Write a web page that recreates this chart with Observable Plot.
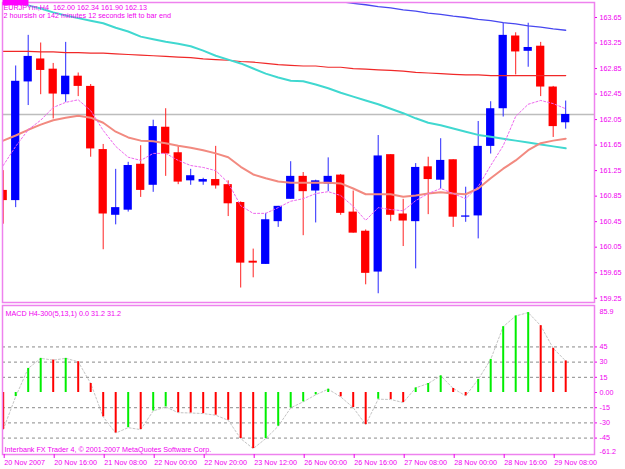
<!DOCTYPE html>
<html><head><meta charset="utf-8">
<script src="https://cdn.jsdelivr.net/npm/d3@7"></script>
<script src="https://cdn.jsdelivr.net/npm/@observablehq/plot@0.6"></script>
<style>
body{margin:0;background:#fff;}
#wrap{position:relative;width:625px;height:469px;overflow:hidden;background:#fff;}
#wrap svg{position:absolute;left:0;}
</style></head><body><div id="wrap"></div>
<script>
// ---- data (H4 candles, index 0 = 20 Nov 2007 00:00) ----
const opens  = [160.94,160.78,162.64,163.00,162.84,162.44,162.73,162.57,161.58,160.55,160.63,161.35,161.02,161.93,161.53,161.09,161.07,161.11,161.03,160.75,159.83,159.78,160.45,160.80,161.16,160.93,161.04,161.18,160.60,160.30,159.66,161.50,160.57,160.45,161.31,161.10,161.42,160.52,160.54,161.63,162.22,163.36,163.12,163.20,162.56,162.00];
const highs  = [161.25,162.89,163.37,163.25,162.93,163.26,162.78,162.60,161.66,161.27,161.38,161.64,162.04,162.22,161.63,161.27,161.13,161.63,161.09,160.76,160.02,160.58,160.69,161.39,161.22,161.10,161.45,161.19,160.93,160.32,161.80,161.50,160.80,161.36,161.46,161.75,161.42,160.99,162.02,162.33,163.56,163.41,163.56,163.26,162.57,162.34];
const lows   = [160.41,160.67,162.27,162.44,162.06,162.32,162.41,161.46,160.01,160.40,160.60,160.83,160.91,161.16,161.03,161.02,161.02,160.96,160.53,159.41,159.57,159.78,160.36,160.80,160.23,160.43,160.92,160.55,160.27,159.46,159.32,160.45,160.06,159.71,160.56,160.96,160.36,160.44,160.18,161.51,162.09,162.75,162.87,162.41,161.77,161.90];
const closes = [160.78,162.65,163.04,162.82,162.45,162.73,162.57,161.59,160.57,160.67,161.33,160.94,161.94,161.51,161.07,161.17,161.11,161.01,160.73,159.80,159.80,160.48,160.69,161.16,160.92,161.09,161.16,160.58,160.27,159.64,161.48,160.55,160.46,161.30,161.11,161.41,160.52,160.54,161.63,162.22,163.37,163.11,163.18,162.56,161.94,162.13];

const maCyan   = [163.95,163.90,163.84,163.79,163.73,163.68,163.64,163.60,163.56,163.49,163.43,163.35,163.31,163.27,163.24,163.20,163.13,163.05,162.99,162.93,162.85,162.77,162.71,162.66,162.65,162.60,162.54,162.47,162.41,162.35,162.29,162.22,162.15,162.07,162.00,161.96,161.91,161.86,161.81,161.78,161.75,161.72,161.69,161.66,161.63,161.60];
const maRed    = [163.12,163.12,163.12,163.11,163.11,163.10,163.10,163.09,163.09,163.08,163.07,163.06,163.05,163.04,163.03,163.02,163.00,162.99,162.98,162.96,162.95,162.93,162.91,162.90,162.89,162.89,162.87,162.87,162.85,162.84,162.83,162.82,162.81,162.79,162.78,162.77,162.76,162.75,162.75,162.74,162.74,162.74,162.74,162.74,162.74,162.74];
const maSalmon = [161.72,161.80,161.89,161.97,162.04,162.08,162.11,162.08,162.00,161.86,161.77,161.72,161.71,161.68,161.64,161.61,161.57,161.52,161.46,161.31,161.19,161.13,161.08,161.06,161.06,161.06,161.06,161.05,160.97,160.88,160.88,160.88,160.84,160.86,160.89,160.91,160.89,160.88,160.97,161.13,161.28,161.41,161.57,161.68,161.72,161.75];
const maDotted = [161.33,161.63,161.89,162.04,162.24,162.32,162.36,162.19,161.88,161.63,161.46,161.41,161.52,161.52,161.41,161.33,161.30,161.25,161.06,160.70,160.58,160.58,160.67,160.77,160.81,160.89,160.92,160.86,160.69,160.47,160.67,160.64,160.62,160.78,160.89,160.97,160.89,160.81,161.00,161.33,161.64,162.10,162.29,162.35,162.30,162.22];
const maBlueStart = 27;
const maBlue   = [163.90,163.87,163.85,163.82,163.80,163.77,163.75,163.72,163.70,163.67,163.65,163.62,163.60,163.57,163.55,163.52,163.50,163.47,163.45];

const macd = [-36.6,-4.0,23.8,33.7,32.0,33.7,30.4,8.9,-24.0,-40.0,-34.7,-36.6,-18.2,-14.2,-19.9,-20.2,-20.8,-22.4,-27.4,-45.5,-55.4,-45.5,-33.3,-15.2,-9.2,-2.3,3.3,-4.3,-14.9,-31.7,-6.6,-6.9,-9.9,4.6,8.9,16.5,4.0,-3.3,12.9,32.7,65.0,75.6,78.9,66.0,43.6,31.2];

const priceTicks = [163.65,163.25,162.85,162.45,162.05,161.65,161.25,160.85,160.45,160.05,159.65,159.25];
const macdTicks  = [45,30,15,0,-15,-30,-45];
const macdLevels = [45,30,15,-15,-30,-45];
const macdMax = 85.9, macdMin = -61.2;
const xTickIdx    = [0,4,8,12,16,20,24,28,32,36,40,44];
const xTickLabels = ["20 Nov 2007","20 Nov 16:00","21 Nov 08:00","22 Nov 00:00","22 Nov 20:00","23 Nov 12:00","26 Nov 00:00","26 Nov 16:00","27 Nov 08:00","28 Nov 00:00","28 Nov 16:00","29 Nov 08:00"];

const header1 = "EURJPYm,H4  162.00 162.34 161.90 162.13";
const header2 = "2 hoursish or 142 minutes 12 seconds left to bar end";
const macdTitle = "MACD H4-300(5,13,1) 0.0 31.2 31.2";
const caption = "Interbank FX Trader 4, \u00A9 2001-2007 MetaQuotes Software Corp.";

// ---- derived tables ----
const candles = opens.map((o,i)=>({i, o, h:highs[i], l:lows[i], c:closes[i], up: closes[i] >= o}));
const ser = (arr, start=0) => arr.map((v,k)=>({i:k+start, v}));
const macdData = macd.map((v,i)=>({i, v, up: i>0 && v > macd[i-1]}));
const lastClose = closes[closes.length-1];

const MAG = "#f000f0", FRAME = "#ee82ee";
const FONT = "Liberation Sans, Arial, sans-serif";
const FS = 7.2;
const xDom = [-0.056, 47.304];
const common = {width:625, marginLeft:2, marginRight:31, color:{type:"identity"},
  style:{fontFamily:FONT, fontSize:FS+"px", background:"transparent", overflow:"visible"}};

const topPlot = Plot.plot({...common, height:303, marginTop:2, marginBottom:1,
  x:{domain:xDom, axis:null}, y:{domain:[159.183,163.885], axis:null},
  marks:[
    Plot.ruleY([lastClose], {stroke:"#bdbdbd", strokeWidth:1.5}),
    Plot.ruleX(candles, {x:"i", y1:"l", y2:"h", stroke:d=>d.up?"#2828ff":"#ff2020", strokeWidth:1, clip:true}),
    Plot.rect(candles, {x1:d=>d.i-0.33, x2:d=>d.i+0.33, y1:"o", y2:"c", fill:d=>d.up?"#0000ff":"#ff0000", clip:true}),
    Plot.line(ser(maRed), {x:"i", y:"v", stroke:"#f02828", strokeWidth:1.2, clip:true}),
    Plot.line(ser(maCyan), {x:"i", y:"v", stroke:"#40d8d0", strokeWidth:2, clip:true}),
    Plot.line(ser(maBlue, maBlueStart), {x:"i", y:"v", stroke:"#4848f0", strokeWidth:1.3, clip:true}),
    Plot.line(ser(maSalmon), {x:"i", y:"v", stroke:"#f28a80", strokeWidth:2, clip:true}),
    Plot.line(ser(maDotted), {x:"i", y:"v", stroke:"#ee66ee", strokeWidth:1, strokeDasharray:"2,2", clip:true}),
    Plot.frame({stroke:FRAME, strokeWidth:1.5}),
    Plot.axisY({anchor:"right", label:null, ticks:priceTicks, tickFormat:d3.format(".2f"), tickSize:2, tickPadding:3, stroke:MAG, fill:MAG, fontSize:FS}),
    Plot.text([lastClose], {y:d=>d, text:d=>d3.format(".2f")(d), frameAnchor:"right", textAnchor:"start", dx:4, fill:"white", fontSize:FS}),
    Plot.text([header1], {text:d=>d, frameAnchor:"top-left", dx:1, dy:2, fill:MAG, fontSize:FS}),
    Plot.text([header2], {text:d=>d, frameAnchor:"top-left", dx:1, dy:10, fill:MAG, fontSize:FS})
  ]});

const botPlot = Plot.plot({...common, height:166, marginTop:2, marginBottom:15,
  x:{domain:xDom, axis:null}, y:{domain:[macdMin, macdMax], axis:null},
  marks:[
    Plot.ruleY(macdLevels, {stroke:"#8a8a8a", strokeDasharray:"3,3", strokeWidth:1}),
    Plot.line(macdData, {x:"i", y:"v", stroke:"#c4c4c4", strokeDasharray:"2,2", strokeWidth:1}),
    Plot.ruleX(macdData, {x:"i", y1:0, y2:"v", stroke:d=>d.up?"#00ee00":"#ff0000", strokeWidth:2}),
    Plot.frame({stroke:FRAME, strokeWidth:1.5}),
    Plot.axisY({anchor:"right", label:null, ticks:macdTicks, tickFormat:d=>d===0?"0.00":String(d), tickSize:2, tickPadding:3, stroke:MAG, fill:MAG, fontSize:FS}),
    Plot.axisY({anchor:"right", label:null, ticks:[macdMax], tickFormat:d=>String(d), tickSize:0, tickPadding:5, dy:6, fill:MAG, fontSize:FS}),
    Plot.axisY({anchor:"right", label:null, ticks:[macdMin], tickFormat:d=>String(d), tickSize:0, tickPadding:5, dy:-3, fill:MAG, fontSize:FS}),
    Plot.axisX({label:null, ticks:xTickIdx, tickFormat:d=>xTickLabels[xTickIdx.indexOf(d)], tickSize:4, tickPadding:1, textAnchor:"start", dx:1, stroke:MAG, fill:MAG, fontSize:FS}),
    Plot.text([macdTitle], {text:d=>d, frameAnchor:"top-left", dx:3, dy:5, fill:MAG, fontSize:FS}),
    Plot.text([caption], {text:d=>d, frameAnchor:"bottom-left", dx:2, dy:-3, fill:MAG, fontSize:FS})
  ]});

const wrap = document.getElementById("wrap");
topPlot.style.top = "0px";
botPlot.style.top = "303px";
wrap.appendChild(topPlot);
wrap.appendChild(botPlot);

// price tag background behind the white last-price label
const tagText = d3.format(".2f")(lastClose);
d3.select(topPlot).selectAll("text").each(function(){
  if (this.textContent === tagText && this.parentNode.getAttribute("fill") === "white") {
    const b = this.getBBox();
    d3.select(this.parentNode).insert("rect", ":first-child")
      .attr("x", b.x-2).attr("y", b.y-0.5).attr("width", b.width+4).attr("height", b.height+1)
      .attr("fill", "#ff00ff");
  }
});
</script></body></html>
